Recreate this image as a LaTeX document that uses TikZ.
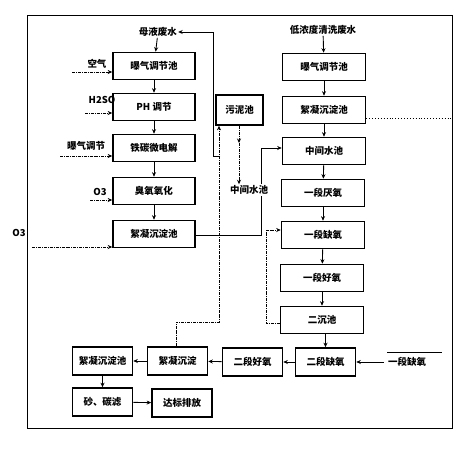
\documentclass[tikz,border=0pt]{standalone}
\usepackage{fontspec}
\setmainfont{Noto Sans CJK SC}
\usetikzlibrary{arrows.meta}
\begin{document}
\begin{tikzpicture}[x=1pt,y=-1pt,
  font=\fontsize{9.5}{11}\selectfont\bfseries,
  box/.style={draw,line width=1.6pt,minimum height=27pt,inner sep=1pt,fill=white},
  lbox/.style={box,minimum width=82pt},
  rbox/.style={box,minimum width=83pt},
  bbox/.style={box,minimum width=60pt,minimum height=28pt},
  lab/.style={inner sep=1pt},
  conn/.style={line width=0.9pt},
  arr/.style={conn,-{Stealth[length=4.5pt,width=4pt]}},
  darr/.style={arr,densely dashdotted},
  dline/.style={conn,densely dashdotted}]
\useasboundingbox (0,0) rectangle (467,453);
% outer frame
\draw[line width=1pt] (27,15) rectangle (452,428);
% left column
\node[lbox] (L1) at (154,66) {曝气调节池};
\node[lbox] (L2) at (154,107) {PH 调节};
\node[lbox] (L3) at (154,148) {铁碳微电解};
\node[lbox] (L4) at (154,191) {臭氧氧化};
\node[lbox] (L5) at (154,234) {絮凝沉淀池};
\node[lab] (mu) at (158,32) {母液废水};
% right column
\node[lab] (di) at (323,30) {低浓度清洗废水};
\node[rbox] (R1) at (324,67) {曝气调节池};
\node[rbox] (R2) at (324,110) {絮凝沉淀池};
\node[rbox] (R3) at (324,151) {中间水池};
\node[rbox] (R4) at (323,193) {一段厌氧};
\node[rbox] (R5) at (323,235) {一段缺氧};
\node[rbox] (R6) at (322,278) {一段好氧};
\node[rbox] (R7) at (322,320) {二沉池};
% bottom row
\node[bbox] (B1) at (325.5,362) {二段缺氧};
\node[bbox] (B2) at (252.5,362) {二段好氧};
\node[bbox] (B3) at (177.5,361) {絮凝沉淀};
\node[bbox] (B4) at (102.5,361) {絮凝沉淀池};
\node[bbox] (B5) at (102.5,402) {砂、碳滤};
\node[bbox] (B6) at (182,403) {达标排放};
% middle
\node[box,minimum width=47pt,minimum height=30pt] (W) at (239.5,110) {污泥池};
\node[lab] (M) at (249,190) {中间水池};
% side labels
\node[lab] (kq) at (97,64) {空气};
\node[lab] (h2) at (102,100) {H2SO};
\node[lab] (bq) at (86,146) {曝气调节};
\node[lab] (o3a) at (100,192) {O3};
\node[lab] (o3b) at (19,233) {O3};
\node[lab] (yd) at (407,362) {一段缺氧};
\draw[conn] (387,352) -- (442,352);
% left side inputs
\coordinate (a1) at (72,72);
\coordinate (a2) at (85,113);
\coordinate (a3) at (60,156);
\coordinate (a4) at (90,200);
\coordinate (a5) at (32,247);
\draw[darr] (a1) -- (a1 -| L1.west);
\draw[darr] (a2) -- (a2 -| L2.west);
\draw[darr] (a3) -- (a3 -| L3.west);
\draw[darr] (a4) -- (a4 -| L4.west);
\draw[darr] (a5) -- (a5 -| L5.west);
% left column flow
\draw[arr] (mu) -- (L1);
\draw[arr] (L1) -- (L2);
\draw[arr] (L2) -- (L3);
\draw[arr] (L3) -- (L4);
\draw[arr] (L4) -- (L5);
% right column flow
\draw[arr] (di) -- (R1);
\draw[arr] (R1) -- (R2);
\draw[arr] (R2) -- (R3);
\draw[arr] (R3) -- (R4);
\draw[arr] (R4) -- (R5);
\draw[arr] (R5) -- (R6);
\draw[arr] (R6) -- (R7);
\draw[arr] (R7.south -| B1) -- (B1);
% bottom row flow
\draw[arr] (B1) -- (B2);
\draw[arr] (B2) -- (B3);
\draw[arr] (B3) -- (B4);
\draw[arr] (B4) -- (B5);
\draw[arr] (B5) -- (B6);
\draw[arr] (yd.west) ++(-3,0) coordinate (ydw) (ydw) -- (B1.east);
% left settler to middle tank
\coordinate (c1) at (261,235);
\coordinate (c2) at (261,148);
\draw[conn] (L5.east |- c1) -- (c1) -- (c1 |- M.south);
\draw[arr] (c2 |- M.north) -- (c2) -- (R3.west |- c2);
% return to mother liquor
\coordinate (c3) at (213,156);
\draw[arr] (220,156) -- (c3) -- (c3 |- mu) -- (mu.east);
% sludge lines
\coordinate (s1) at (176,322);
\coordinate (s2) at (219,322);
\draw[darr] (B3.north -| s1) -- (s1) -- (s2) -- (s2 |- W.south);
\coordinate (s3) at (239,143);
\draw[darr] (W.south -| s3) -- (s3);
\draw[darr] (s3) -- (s3 |- M.north);
% secondary sludge return
\coordinate (s4) at (266,323);
\coordinate (s5) at (266,230);
\draw[darr] (R7.west |- s4) -- (s4) -- (s5) -- (R5.west |- s5);
% dotted line to frame
\coordinate (d1) at (452,118);
\draw[conn,dotted] (R2.east |- d1) -- (d1);
\end{tikzpicture}
\end{document}
